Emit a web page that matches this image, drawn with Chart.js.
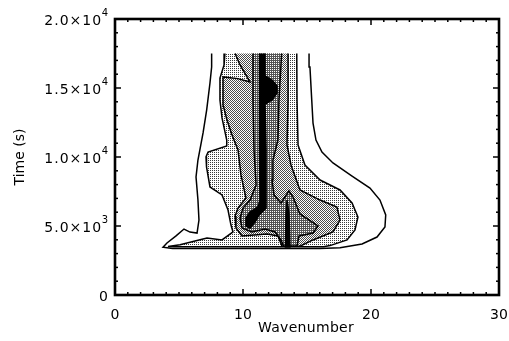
<!DOCTYPE html>
<html>
<head>
<meta charset="utf-8">
<script src="https://cdn.jsdelivr.net/npm/chart.js@4"></script>
<style>
  html, body { margin: 0; padding: 0; background: #fff; }
  canvas { display: block; }
</style>
</head>
<body>
<canvas id="c" width="509" height="341"></canvas>
<script>
// Axis ranges and tick marks
const xRange = [0, 30];
const yRange = [0, 20000];
const xMajorTicks = [0, 10, 20, 30];
const xTickLabels = ['0', '10', '20', '30'];
const yMajorTicks = [0, 5000, 10000, 15000, 20000];
const yTickMantissas = ['0', '5.0', '1.0', '1.5', '2.0'];
const yTickExponents = ['', '3', '4', '4', '4'];
const xMinorStep = 1;
const yMinorStep = 1000;
const xTitle = 'Wavenumber';
const yTitle = 'Time (s)';

// Contour outlines, [wavenumber, time (s)], from the lowest level inwards.
// Each outline runs down the left flank, along the base and back up the right flank;
// the record stops at 17500 s, so the tops stay open.
const level1 = [
  [7.55, 17500], [7.55, 16520], [7.42, 15360], [7.16, 13400], [6.88, 11740], [6.48, 9780],
  [6.33, 8550], [6.48, 6880], [6.56, 5430], [6.41, 4490], [5.86, 4560], [5.39, 4780],
  [4.77, 4280], [4.06, 3770], [3.75, 3460], [4.5, 3370], [16.0, 3370], [17.58, 3420],
  [19.30, 3700], [20.47, 4200], [21.09, 4930], [21.15, 5800], [20.70, 6880], [19.92, 7750],
  [18.52, 8620], [17.03, 9570], [16.17, 10360], [15.70, 11230], [15.47, 12460], [15.37, 14130],
  [15.23, 16520], [15.16, 17500]
];
const level2 = [
  [8.59, 17500], [8.52, 16670], [8.2, 15720], [8.2, 14130], [8.36, 12830], [8.73, 11230],
  [8.73, 10800], [7.27, 10360], [7.11, 10000], [7.15, 9280], [7.42, 7830], [8.36, 7250],
  [8.83, 6160], [9.06, 5070], [9.22, 4570], [8.36, 3990], [7.19, 4130], [5.08, 3640],
  [4.14, 3520], [4.6, 3500], [16.3, 3500], [16.8, 3580], [18.13, 3990], [18.75, 4710],
  [18.98, 5650], [18.52, 6670], [17.58, 7610], [16.02, 8330], [14.84, 9420], [14.30, 10870],
  [14.22, 14130], [14.2, 17500]
];
const level3 = [
  [9.38, 17500], [9.77, 16670], [10.55, 15430], [9.6, 15680], [8.44, 15800], [8.44, 14850],
  [8.44, 13770], [8.75, 12680], [9.14, 11590], [9.61, 10510], [9.84, 8700], [10.23, 7030],
  [9.61, 6300], [9.38, 5720], [9.45, 4860], [9.92, 4280], [11.88, 4420], [12.73, 4280],
  [13.05, 3530], [14.45, 3530], [15.47, 3990], [17.03, 4570], [17.58, 5430], [17.34, 6380],
  [16.02, 6880], [14.45, 7610], [13.75, 9420], [13.44, 10870], [13.52, 14130], [13.52, 17500]
];
const level4 = [
  [10.78, 17500], [10.78, 14130], [10.86, 10510], [11.02, 7970], [10.55, 6880], [10.0, 6300],
  [9.77, 5580], [9.92, 4850], [10.70, 4570], [11.72, 4780], [12.5, 4570], [12.97, 3990],
  [13.16, 3550], [14.22, 3550], [14.38, 4280], [15.47, 4490], [15.86, 5000], [14.45, 5870],
  [13.91, 7100], [13.59, 7540], [12.97, 6670], [12.42, 7250], [12.27, 8330], [12.34, 9780],
  [12.73, 11230], [12.81, 14130], [13.02, 17500]
];
const level5Ridge = [
  [11.29, 17500], [11.29, 10510], [11.33, 6880], [11.17, 6380], [10.55, 6010], [10.23, 5580],
  [10.23, 5000], [10.55, 4850], [10.94, 5290], [11.25, 5800], [11.80, 6300], [11.80, 10510],
  [11.72, 13840], [12.27, 14130], [12.66, 14640], [12.66, 15140], [12.27, 15580], [11.72, 15870],
  [11.72, 17500]
];
const level5Spike = [
  [13.44, 6880], [13.59, 5940], [13.67, 3480], [13.32, 3480], [13.36, 5940], [13.44, 6880]
];

const canvas = document.getElementById('c');
const ctx2d = canvas.getContext('2d');

// Dot-screen fills for the shaded levels
function stipple(cells, shade) {
  const tile = document.createElement('canvas');
  tile.width = 2; tile.height = 2;
  const g = tile.getContext('2d');
  g.fillStyle = '#fff';
  g.fillRect(0, 0, 2, 2);
  g.fillStyle = shade;
  cells.forEach(([i, j]) => g.fillRect(i, j, 1, 1));
  return ctx2d.createPattern(tile, 'repeat');
}
const lightScreen = stipple([[0, 0]], '#3a3a3a');
const mediumScreen = stipple([[0, 0], [1, 1]], '#4a4a4a');
const darkScreen = stipple([[0, 0], [1, 1], [1, 0]], '#555');

const contourLevels = [
  { pts: level1, fill: '#ffffff', order: 6 },
  { pts: level2, fill: lightScreen, order: 5 },
  { pts: level3, fill: mediumScreen, order: 4 },
  { pts: level4, fill: darkScreen, order: 3 },
  { pts: level5Ridge, fill: '#000', order: 2 },
  { pts: level5Spike, fill: '#000', order: 1 }
];

const FONT = '"DejaVu Sans", sans-serif';

// Frame, inward ticks and axis labels drawn on the chart's own scales
const frameAxes = {
  id: 'frameAxes',
  afterDraw(chart) {
    const { ctx, chartArea: a, scales: { x, y } } = chart;
    ctx.save();
    ctx.strokeStyle = '#000';
    ctx.fillStyle = '#000';
    const seg = (x0, y0, x1, y1) => { ctx.beginPath(); ctx.moveTo(x0, y0); ctx.lineTo(x1, y1); ctx.stroke(); };

    ctx.lineWidth = 1.5;
    for (let v = xRange[0] + xMinorStep; v < xRange[1]; v += xMinorStep) {
      const px = x.getPixelForValue(v);
      const len = xMajorTicks.includes(v) ? 6 : 3;
      seg(px, a.bottom, px, a.bottom - len);
      seg(px, a.top, px, a.top + len);
    }
    for (let v = yRange[0] + yMinorStep; v < yRange[1]; v += yMinorStep) {
      const py = y.getPixelForValue(v);
      const len = yMajorTicks.includes(v) ? 6 : 3;
      seg(a.left, py, a.left + len, py);
      seg(a.right, py, a.right - len, py);
    }

    ctx.lineWidth = 2.6;
    ctx.strokeRect(a.left, a.top, a.right - a.left, a.bottom - a.top);

    // x tick labels
    ctx.font = '14px ' + FONT;
    ctx.textAlign = 'center';
    ctx.textBaseline = 'alphabetic';
    xMajorTicks.forEach((v, i) => {
      ctx.fillText(xTickLabels[i], x.getPixelForValue(v), a.bottom + 23.5);
    });
    ctx.letterSpacing = '0.3px';
    ctx.fillText(xTitle, (a.left + a.right) / 2 - 1, a.bottom + 36.5);

    // y tick labels: mantissa ×10 with raised exponent
    const rightEdge = a.left - 7;
    yMajorTicks.forEach((v, i) => {
      const cy = y.getPixelForValue(v) + 1;
      const exp = yTickExponents[i];
      let baseRight = rightEdge;
      ctx.letterSpacing = '0px';
      if (exp) {
        ctx.font = '10px ' + FONT;
        ctx.textAlign = 'right';
        ctx.textBaseline = 'alphabetic';
        ctx.fillText(exp, rightEdge, cy - 4);
        baseRight = rightEdge - ctx.measureText(exp).width - 0.5;
      }
      ctx.font = '14px ' + FONT;
      ctx.letterSpacing = exp ? '1px' : '0px';
      ctx.textAlign = 'right';
      ctx.textBaseline = 'alphabetic';
      const txt = exp ? yTickMantissas[i] + '\u00d710' : yTickMantissas[i];
      ctx.fillText(txt, baseRight + (exp ? 1 : 0), cy + 5);
    });

    // y title
    ctx.letterSpacing = '0px';
    ctx.translate(20, (a.top + a.bottom) / 2);
    ctx.rotate(-Math.PI / 2);
    ctx.font = '14px ' + FONT;
    ctx.textAlign = 'center';
    ctx.textBaseline = 'middle';
    ctx.fillText(yTitle, 0, 0);
    ctx.restore();
  }
};

new Chart(canvas, {
  type: 'line',
  data: {
    datasets: contourLevels.map(l => ({
      data: l.pts.map(([wx, t]) => ({ x: wx, y: t })),
      fill: 'shape',
      backgroundColor: l.fill,
      borderColor: '#000',
      borderWidth: 1.5,
      pointRadius: 0,
      tension: 0,
      order: l.order
    }))
  },
  options: {
    responsive: false,
    animation: false,
    devicePixelRatio: 1,
    layout: { padding: { left: 115, top: 19, right: 10, bottom: 46 } },
    scales: {
      x: { type: 'linear', min: xRange[0], max: xRange[1], display: false },
      y: { type: 'linear', min: yRange[0], max: yRange[1], display: false }
    },
    plugins: { legend: { display: false }, tooltip: { enabled: false } }
  },
  plugins: [frameAxes]
});
</script>
</body>
</html>
